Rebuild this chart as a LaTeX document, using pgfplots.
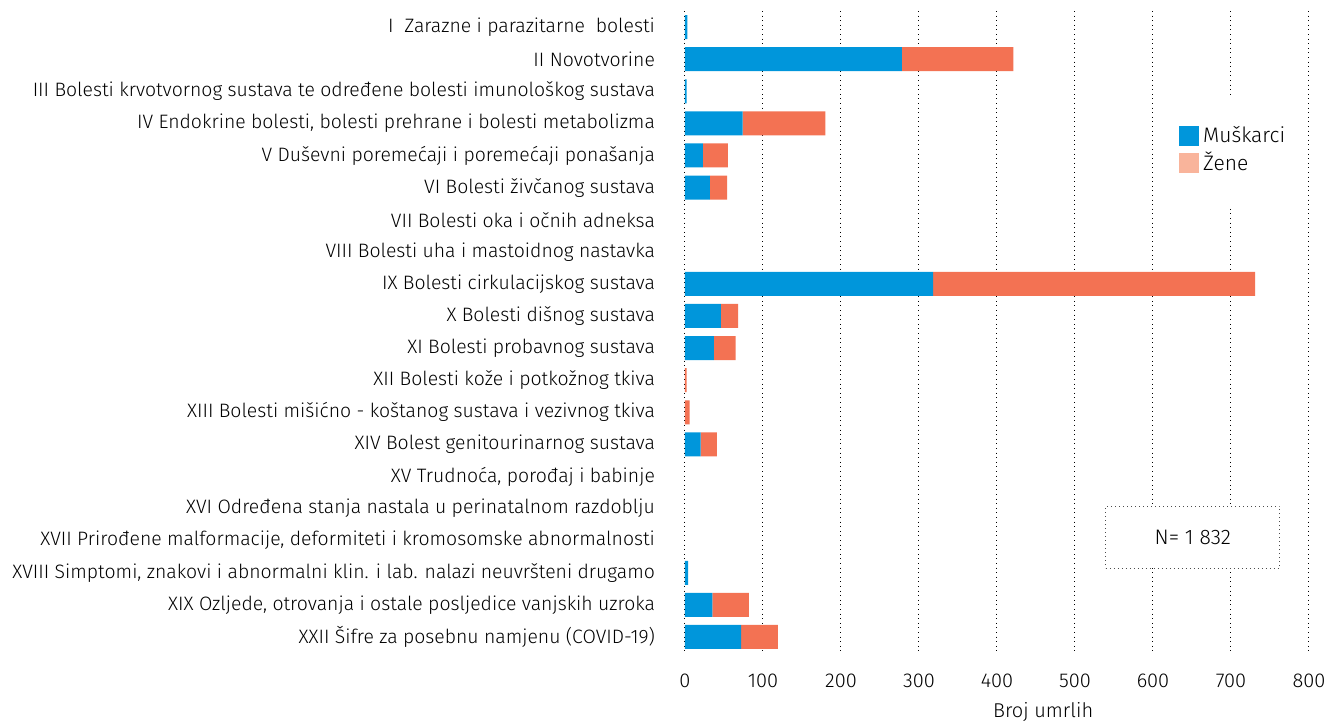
\documentclass[border=0pt]{standalone}
\usepackage{fontspec}
\setmainfont{Fira Sans Light}
\usepackage{pgfplots}
\usepackage{pgfplotstable}
\pgfplotsset{compat=1.18}

\definecolor{mblue}{HTML}{0096DB}
\definecolor{fred}{HTML}{F37253}
\definecolor{flight}{HTML}{F9B49B}

% idx: 0 = I ... 19 = XXII ; m = Muskarci, f = Zene
\pgfplotstableread{
idx m   f
0   3   0
1   278 143
2   2   0
3   74  106
4   23  32
5   32  22
6   0   0
7   0   0
8   318 413
9   46  22
10  37  28
11  0   2
12  0   6
13  20  21
14  0   0
15  0   0
16  0   0
17  4   0
18  35  47
19  72  47
}\deaths

\begin{document}
\begin{tikzpicture}
\begin{axis}[
  scale only axis, width=312pt, height=321pt,
  xbar stacked, bar width=12pt,
  xmin=0, xmax=800, ymin=-0.5, ymax=19.5, y dir=reverse,
  axis line style={draw=none}, tick style={draw=none},
  xtick={0,100,...,800}, xmajorgrids,
  grid style={black, line width=0.5pt, dash pattern=on 0.5pt off 1.8pt},
  ytick={0,...,19},
  yticklabels={
    {I~~Zarazne i parazitarne~~bolesti},
    {II Novotvorine},
    {III Bolesti krvotvornog sustava te određene bolesti imunološkog sustava},
    {IV Endokrine bolesti, bolesti prehrane i bolesti metabolizma},
    {V Duševni poremećaji i poremećaji ponašanja},
    {VI Bolesti živčanog sustava},
    {VII Bolesti oka i očnih adneksa},
    {VIII Bolesti uha i mastoidnog nastavka},
    {IX Bolesti cirkulacijskog sustava},
    {X Bolesti dišnog sustava},
    {XI Bolesti probavnog sustava},
    {XII Bolesti kože i potkožnog tkiva},
    {XIII Bolesti mišićno - koštanog sustava i vezivnog tkiva},
    {XIV Bolest genitourinarnog sustava},
    {XV Trudnoća, porođaj i babinje},
    {XVI Određena stanja nastala u perinatalnom razdoblju},
    {XVII Prirođene malformacije, deformiteti i kromosomske abnormalnosti},
    {XVIII Simptomi, znakovi i abnormalni klin. i lab. nalazi neuvršteni drugamo},
    {XIX Ozljede, otrovanja i ostale posljedice vanjskih uzroka},
    {XXII Šifre za posebnu namjenu (COVID-19)}},
  yticklabel style={font=\fontsize{9.7}{11}\selectfont, xshift=-11.5pt},
  xticklabel style={font=\fontsize{10}{12}\selectfont, yshift=-7pt},
  /pgf/number format/assume math mode=true,
  xlabel={Broj umrlih},
  xlabel style={font=\fontsize{10}{12}\selectfont, at={(rel axis cs:0.574,0)}, anchor=north, yshift=-21pt},
  legend style={draw=none, fill=none, at={(rel axis cs:0.7917,0.8270)}, anchor=north west,
    inner sep=0pt, font=\fontsize{10.5}{12}\selectfont, row sep=-1pt},
  legend cell align=left,
]
\fill[white] (axis cs:605,2.15) rectangle (axis cs:788,5.55);
\addplot[fill=mblue, draw=none, forget plot] table[x=m, y=idx]{\deaths};
\addplot[fill=fred, draw=none, forget plot] table[x=f, y=idx]{\deaths};
\addlegendimage{legend image code/.code={\fill[mblue] (0pt,-4.75pt) rectangle (9.5pt,4.75pt);}}
\addlegendentry{Muškarci}
\addlegendimage{legend image code/.code={\fill[flight] (0pt,-4.75pt) rectangle (9.5pt,4.75pt);}}
\addlegendentry{Žene}
\node[draw=black!70, line width=0.5pt, dash pattern=on 0.6pt off 1.4pt, fill=white,
  minimum width=87pt, minimum height=31pt, font=\fontsize{10.5}{12}\selectfont]
  at (axis cs:651,15.89) {N= 1 832};
\end{axis}
\pgfresetboundingbox
\path[use as bounding box] (-342.5pt,-34.5pt) rectangle (321.5pt,326.5pt);
\end{tikzpicture}
\end{document}
